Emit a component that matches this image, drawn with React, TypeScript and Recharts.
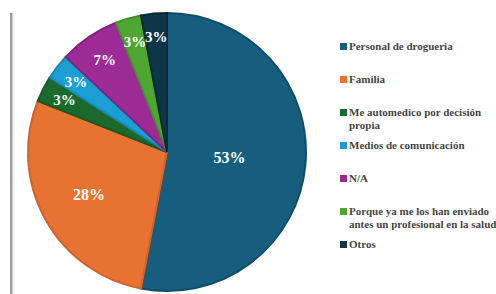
import { PieChart, Pie, Cell, Legend, PieLabelRenderProps } from 'recharts';

// line breaks follow the reference legend
const categories = [
  'Personal de drogueria',
  'Familia',
  'Me automedico por decisión\npropia',
  'Medios de comunicación',
  'N/A',
  'Porque ya me los han enviado\nantes un profesional en la salud',
  'Otros',
];
const values = [53, 28, 3, 3, 7, 3, 3];

const COLORS = ['#175e7e', '#e87232', '#1b6a2d', '#1a9ed3', '#9c2b96', '#4fa531', '#0f3548'];
const EDGES = ['#124d68', '#d0622a', '#155a25', '#1688b8', '#84237f', '#428e28', '#0b2a39'];
const RADIAN = Math.PI / 180;
const FONT = '"Liberation Serif", "Times New Roman", serif';

const data = categories.map((name, i) => ({ name, value: values[i] }));

const renderLabel = ({
  cx = 0, cy = 0, midAngle = 0, outerRadius = 0, percent = 0,
}: PieLabelRenderProps) => {
  const radius = +outerRadius * (0.85 - percent * 0.75);
  const x = (cx as number) + radius * Math.cos(-midAngle * RADIAN);
  const y = (cy as number) + radius * Math.sin(-midAngle * RADIAN);
  return (
    <text
      x={x}
      y={y}
      fill="white"
      textAnchor="middle"
      dominantBaseline="central"
      fontFamily={FONT}
      fontWeight="bold"
      fontSize={percent > 0.2 ? 16 : 15}
    >
      {`${(percent * 100).toFixed(0)}%`}
    </text>
  );
};

const renderLegend = () => (
  <div style={{ fontFamily: FONT, fontWeight: 'bold', fontSize: 11, color: '#454545' }}>
    {categories.map((name, i) => (
      <div key={name} style={{ height: 33, display: 'flex', alignItems: 'flex-start' }}>
        <span
          style={{
            display: 'inline-block', width: 7, height: 7, marginTop: 3, marginRight: 2,
            flexShrink: 0, backgroundColor: COLORS[i],
          }}
        />
        <span style={{ lineHeight: '13px', whiteSpace: 'pre' }}>{name}</span>
      </div>
    ))}
  </div>
);

export default function App() {
  return (
    <div style={{ position: 'absolute', left: 0, top: 0, width: 496, height: 294, background: '#fff', overflow: 'hidden' }}>
      <div
        style={{
          position: 'absolute', left: 10, top: 13, width: 2, height: 290,
          background: '#9a9a9a', boxShadow: '1px 0 2px rgba(0,0,0,0.25)',
        }}
      />
      <PieChart width={496} height={294} margin={{ top: 0, right: 0, bottom: 0, left: 0 }}>
        <Pie
          data={data}
          dataKey="value"
          nameKey="name"
          cx={167}
          cy={152}
          outerRadius={139}
          startAngle={90}
          endAngle={-270}
          labelLine={false}
          label={renderLabel}
          isAnimationActive={false}
        >
          {data.map((_, i) => (
            <Cell key={`cell-${i}`} fill={COLORS[i]} stroke={EDGES[i]} strokeWidth={2} />
          ))}
        </Pie>
        <Legend
          layout="vertical"
          verticalAlign="top"
          align="right"
          content={renderLegend}
          wrapperStyle={{ left: 340, top: 40, width: 170 }}
        />
      </PieChart>
    </div>
  );
}
